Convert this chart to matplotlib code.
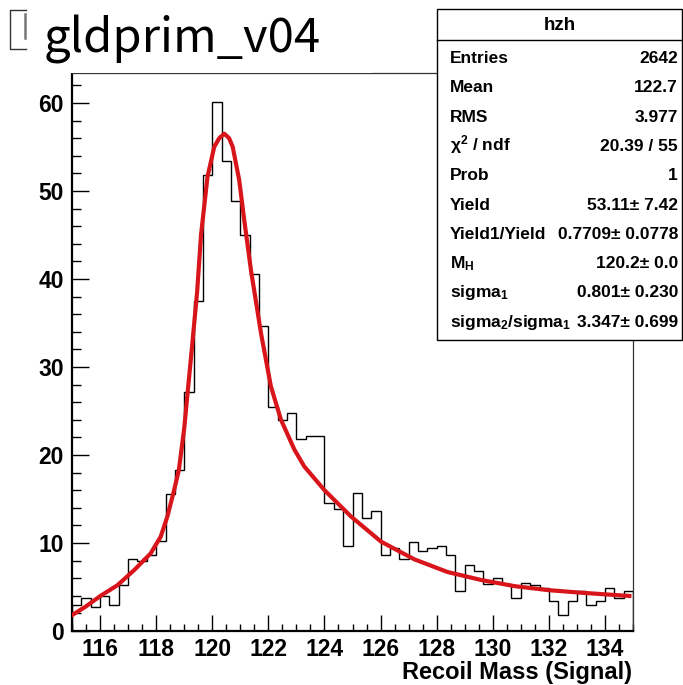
import matplotlib
matplotlib.use("Agg")
import matplotlib.pyplot as plt
from matplotlib.patches import Rectangle
from matplotlib.lines import Line2D
from matplotlib.ticker import MultipleLocator
import numpy as np

plt.rcParams['font.family'] = ['Liberation Sans', 'DejaVu Sans']
plt.rcParams['font.weight'] = 'bold'
plt.rcParams['mathtext.fontset'] = 'custom'
plt.rcParams['mathtext.rm'] = 'Liberation Sans:bold'
plt.rcParams['mathtext.bf'] = 'Liberation Sans:bold'
plt.rcParams['mathtext.it'] = 'Liberation Sans:bold'

# histogram: 60 bins from 115 to 135
x_min, x_max, n_bins = 115.0, 135.0, 60
counts = [3.0, 3.7, 2.7, 4.0, 2.9, 5.2, 8.2, 7.9, 8.6, 10.2,
          15.6, 18.3, 27.1, 37.5, 51.8, 60.1, 53.4, 48.9, 45.0, 40.6,
          34.6, 25.5, 24.0, 24.8, 21.8, 22.2, 22.2, 14.6, 13.9, 9.7,
          15.7, 12.8, 13.6, 8.6, 9.4, 8.2, 10.1, 9.1, 9.4, 9.7,
          8.6, 4.5, 7.5, 6.8, 5.3, 6.0, 5.3, 3.7, 5.5, 5.2,
          4.85, 3.45, 1.8, 3.45, 4.5, 2.9, 3.45, 4.9, 3.7, 4.5]

# fit curve
fit_x = [115.0, 115.5, 116.02, 116.62, 117.21, 117.8, 118.16, 118.4, 118.64, 118.81,
         119.0, 119.12, 119.3, 119.46, 119.6, 119.83, 120.07, 120.25, 120.43, 120.6,
         120.73, 120.96, 121.14, 121.38, 121.74, 122.09, 122.45, 122.93, 123.28, 124.0,
         124.95, 126.02, 127.2, 128.39, 129.58, 130.77, 131.96, 133.15, 134.87]
fit_y = [1.8, 2.8, 4.0, 5.2, 6.9, 8.8, 10.7, 13.0, 16.0, 18.3,
         23.0, 27.0, 33.0, 38.5, 45.0, 51.6, 55.0, 56.0, 56.5, 56.0,
         55.0, 51.25, 46.7, 41.0, 33.8, 27.8, 24.0, 20.6, 18.7, 16.0,
         13.0, 10.15, 8.15, 6.7, 5.8, 5.1, 4.65, 4.35, 3.98]

stats_title = "hzh"
stat_names = ["Entries", "Mean", "RMS", "χ$^{2}$ / ndf", "Prob", "Yield",
              "Yield1/Yield", "M$_{\\rm H}$", "sigma$_{1}$", "sigma$_{2}$/sigma$_{1}$"]
stat_values = ["2642", "122.7", "3.977", "20.39 / 55", "1", "53.11± 7.42",
               "0.7709± 0.0778", "120.2± 0.0", "0.801± 0.230", "3.347± 0.699"]

W, H = 683, 685
fig = plt.figure(figsize=(W / 100, H / 100), dpi=100)


def fx(px):
    return px / W


def fy(py):
    return 1 - py / H


ax = fig.add_axes([fx(72), fy(631), fx(633) - fx(72), fy(73) - fy(631)])
edges = np.linspace(x_min, x_max, n_bins + 1)
ax.stairs(counts, edges, color='black', lw=1.0, baseline=0)
ax.plot(fit_x, fit_y, color='#d8151b', lw=3.0, zorder=3)
ax.set_xlim(x_min, x_max)
ax.set_ylim(0, 63.4)

ax.xaxis.set_major_locator(MultipleLocator(2))
ax.xaxis.set_minor_locator(MultipleLocator(0.5))
ax.yaxis.set_major_locator(MultipleLocator(10))
ax.yaxis.set_minor_locator(MultipleLocator(2))
ax.tick_params(which='both', direction='in', top=False, right=False, width=1.0, colors='black')
ax.tick_params(axis='y', which='major', length=12, labelsize=16.5, pad=6)
ax.tick_params(axis='y', which='minor', length=6.5)
ax.tick_params(axis='x', which='major', length=11.5, labelsize=16.5, pad=5)
ax.tick_params(axis='x', which='minor', length=5)
for lab in ax.get_xticklabels() + ax.get_yticklabels():
    lab.set_fontweight('bold')

for s in ['left', 'bottom']:
    ax.spines[s].set_linewidth(1.6)
    ax.spines[s].set_color('black')
for s in ['top', 'right']:
    ax.spines[s].set_linewidth(0.9)
    ax.spines[s].set_color('#333333')

fig.text(fx(632), fy(673), "Recoil Mass (Signal)", ha='right', va='center',
         fontsize=17, fontweight='bold')

# white cover over the old title pave, plus its visible left edge
fig.add_artist(Rectangle((fx(26), fy(72.5)), fx(372) - fx(26), 1 - fy(72.5),
                         transform=fig.transFigure, facecolor='white',
                         edgecolor='none', zorder=5))
fig.add_artist(Line2D([fx(26), fx(10), fx(10), fx(26)], [fy(10), fy(10), fy(49), fy(49)],
                      transform=fig.transFigure, color='#333333', lw=1.0, zorder=6))
fig.add_artist(Line2D([fx(24.5), fx(24.5)], [fy(14), fy(38)],
                      transform=fig.transFigure, color='#777777', lw=1.8, zorder=6))
fig.text(fx(44), fy(53), "gldprim_v04", fontsize=34, family=['Noto Sans CJK JP', 'DejaVu Sans'],
         fontweight='normal', va='baseline', ha='left', zorder=7)

# stats box
fig.add_artist(Rectangle((fx(437), fy(340)), fx(682) - fx(437), fy(9) - fy(340),
                         transform=fig.transFigure, facecolor='white',
                         edgecolor='black', lw=1.0, zorder=5))
fig.add_artist(Line2D([fx(437), fx(682)], [fy(40), fy(40)],
                      transform=fig.transFigure, color='black', lw=1.0, zorder=6))
fig.text(fx(559.5), fy(25), stats_title, ha='center', va='center', fontsize=13.5,
         fontweight='bold', zorder=7)
for i, (name, val) in enumerate(zip(stat_names, stat_values)):
    yb = 63 + i * 29.3
    fig.text(fx(450), fy(yb), name, ha='left', va='baseline', fontsize=12.5,
             fontweight='bold', zorder=7)
    fig.text(fx(678), fy(yb), val, ha='right', va='baseline', fontsize=12.5,
             fontweight='bold', zorder=7)

fig.savefig("out.png", dpi=100)
